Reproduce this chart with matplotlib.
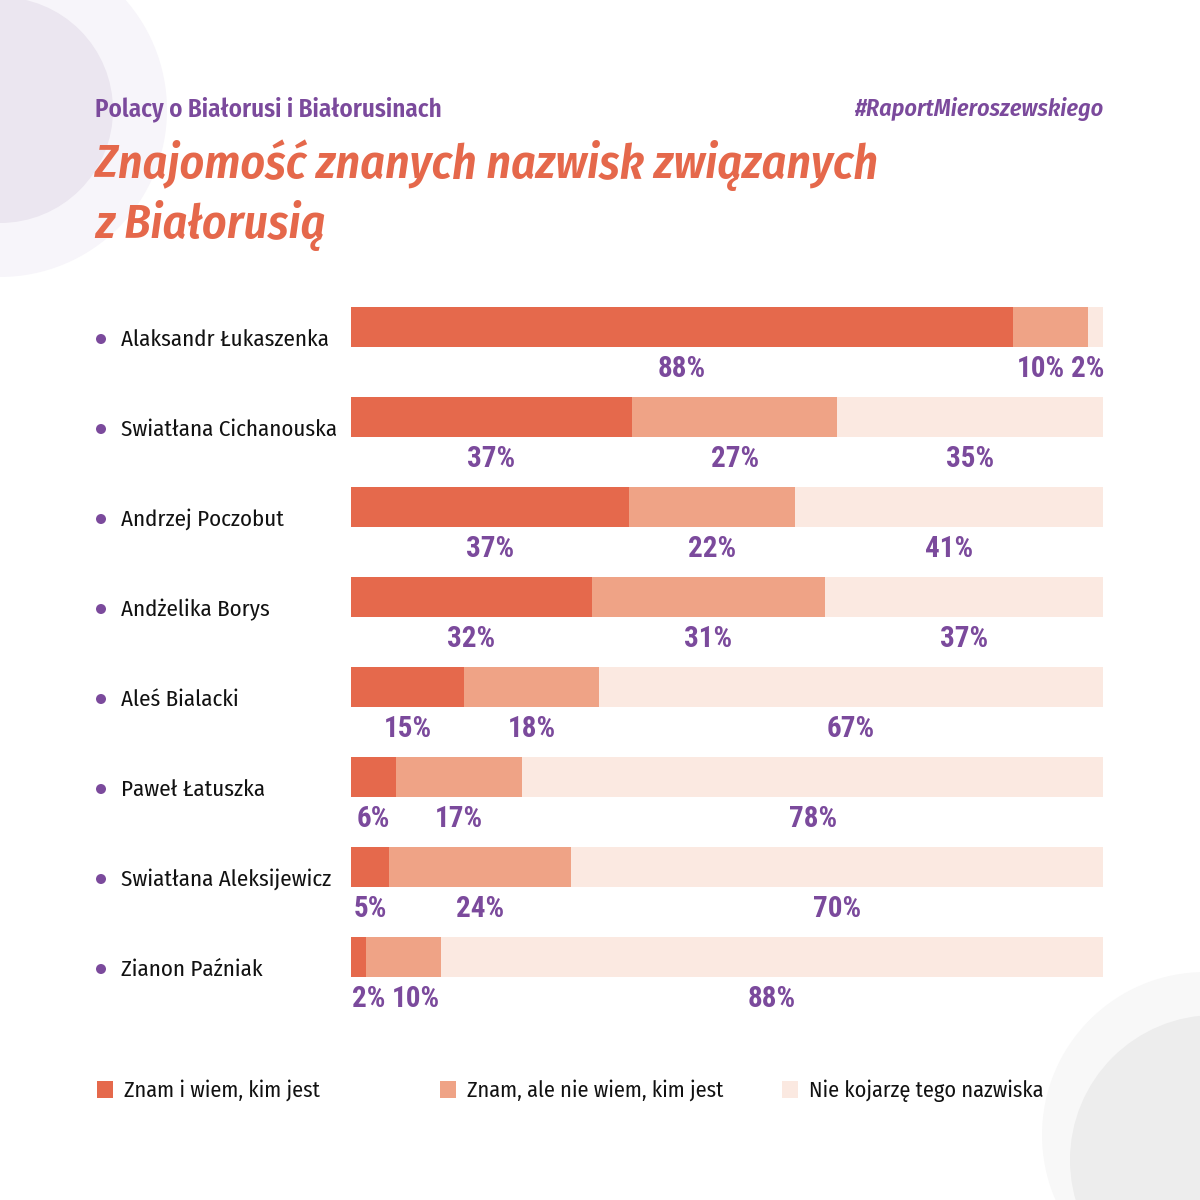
import matplotlib.pyplot as plt
from matplotlib.patches import Circle, Rectangle
import numpy as np

names = ['Alaksandr Łukaszenka', 'Swiatłana Cichanouska', 'Andrzej Poczobut',
         'Andżelika Borys', 'Aleś Bialacki', 'Paweł Łatuszka',
         'Swiatłana Aleksijewicz', 'Zianon Paźniak']
znam_wiem = [88, 37, 37, 32, 15, 6, 5, 2]
znam_nie_wiem = [10, 27, 22, 31, 18, 17, 24, 10]
nie_kojarze = [2, 35, 41, 37, 67, 78, 70, 88]
series_labels = ['Znam i wiem, kim jest', 'Znam, ale nie wiem, kim jest',
                 'Nie kojarzę tego nazwiska']

colors = ['#E5694C', '#EFA386', '#FBE9E1']
purple = '#7B4A9C'
orange = '#E5684B'
FONT = ['Fira Sans Condensed', 'Roboto Condensed', 'Roboto', 'DejaVu Sans']
NUMFONT = ['Roboto Condensed', 'Fira Sans Condensed', 'DejaVu Sans']

W = H = 1200
fig = plt.figure(figsize=(12, 12), dpi=100)

# tło z kółkami
bg = fig.add_axes([0, 0, 1, 1])
bg.set_xlim(0, W)
bg.set_ylim(H, 0)
bg.axis('off')
bg.add_patch(Circle((0, 110), 167, color='#F7F5FA', lw=0))
bg.add_patch(Circle((0, 110), 113, color='#EBE6F0', lw=0))
bg.add_patch(Circle((1205, 1135), 163, color='#F8F8F8', lw=0))
bg.add_patch(Circle((1215, 1160), 145, color='#EDEDED', lw=0))

# nagłówki
bg.text(95, 116, 'Polacy o Białorusi i Białorusinach', color=purple, fontsize=18,
        fontweight='semibold', family=FONT, va='baseline', ha='left')
bg.text(1103, 116, '#RaportMieroszewskiego', color=purple, fontsize=17.3,
        fontweight='semibold', style='italic', family=FONT, va='baseline', ha='right')
bg.text(95, 178, 'Znajomość znanych nazwisk związanych', color=orange, fontsize=34.3,
        fontweight='semibold', style='italic', family=FONT, va='baseline', ha='left')
bg.text(95, 238, 'z Białorusią', color=orange, fontsize=34.3,
        fontweight='semibold', style='italic', family=FONT, va='baseline', ha='left')

# wykres
n = len(names)
vals = np.array([znam_wiem, znam_nie_wiem, nie_kojarze], dtype=float)
vals = vals / vals.sum(axis=0) * 100
raw = [znam_wiem, znam_nie_wiem, nie_kojarze]

ax = fig.add_axes([351 / W, 1 - 1032 / H, 752 / W, 750 / H])
ax.set_xlim(0, 100)
ax.set_ylim(n - 0.5 + 1 / 3, -0.5)
ax.axis('off')

y = np.arange(n)
left = np.zeros(n)
for k in range(3):
    ax.barh(y, vals[k], left=left, height=40 / 90, color=colors[k], lw=0)
    left += vals[k]

# etykiety procentów pod słupkami (z rozsuwaniem nakładających się)
lo, hi = 2.3, 98.0
gap = 6.3
for i in range(n):
    lft = np.cumsum(np.r_[0, vals[:, i]])[:-1]
    cx = lft + vals[:, i] / 2
    cx[0] = max(cx[0], lo)
    for k in range(1, 3):
        if cx[k] - cx[k - 1] < gap:
            cx[k] = cx[k - 1] + gap
    for k in range(2, 0, -1):
        if cx[k] > hi:
            cx[k] = hi
        if cx[k] - cx[k - 1] < gap:
            cx[k - 1] = cx[k] - gap
    for k in range(3):
        ax.text(cx[k], y[i] + 50 / 90, f'{raw[k][i]}%', color=purple, fontsize=21,
                fontweight='bold', family=NUMFONT, ha='center', va='baseline')

# nazwiska
for i, name in enumerate(names):
    py = 327 + 90 * i
    bg.add_patch(Circle((101, py + 12), 5, color=purple, lw=0))
    bg.text(121, py + 19, name, fontsize=16.5, family=FONT, color='#111111',
            ha='left', va='baseline')

# legenda
leg_x = [97, 440, 782]
for k in range(3):
    bg.add_patch(Rectangle((leg_x[k], 1081), 16, 17, color=colors[k], lw=0))
    bg.text(leg_x[k] + 27, 1097, series_labels[k], fontsize=16, family=FONT,
            color='#111111', ha='left', va='baseline')

fig.savefig('out.png', dpi=100, facecolor='white')
